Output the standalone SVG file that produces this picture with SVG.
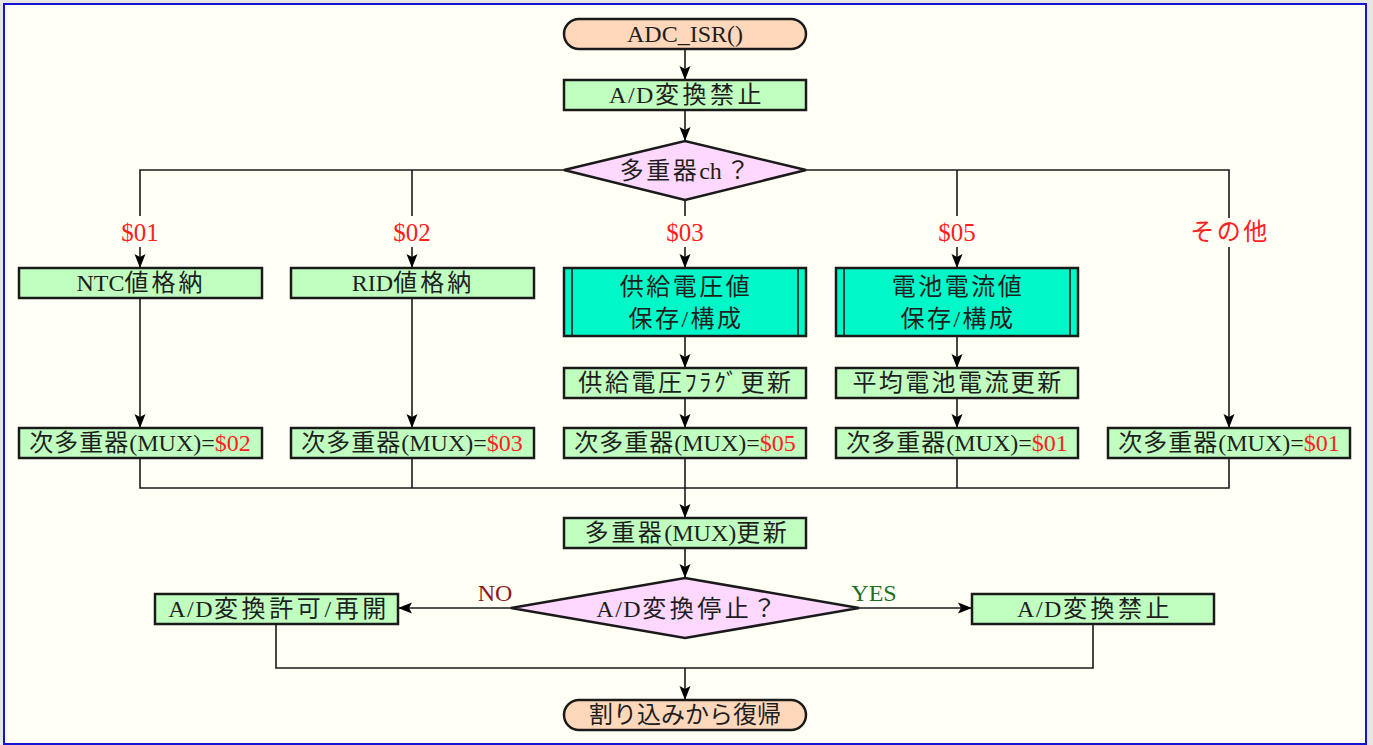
<svg xmlns="http://www.w3.org/2000/svg" width="1373" height="745" viewBox="0 0 1373 745">
  <style>
    text { font-family: "Liberation Serif", "Noto Sans CJK JP", serif; font-size: 24px; fill: #1e1e1e; text-anchor: middle; }
    .lbl { fill: #ff2020; font-size: 25px; }
    .no { fill: #8b1a1a; font-size: 24px; }
    .yes { fill: #1f6f1f; font-size: 24px; }
    .k { letter-spacing: 2.5px; }
    .k3 { letter-spacing: 3.5px; }
    .ad { letter-spacing: 1.5px; }
    .term { fill: #ffd8bc; stroke: #1a1a1a; stroke-width: 2.5; }
    .proc { fill: #c0ffc0; stroke: #1a1a1a; stroke-width: 2.5; }
    .pre { fill: #00f7c8; stroke: #1a1a1a; stroke-width: 2.5; }
    .dec { fill: #ffd8ff; stroke: #1a1a1a; stroke-width: 2.5; }
    .wire { fill: none; stroke: #1a1a1a; stroke-width: 1.6; }
    .arr { fill: none; stroke: #1a1a1a; stroke-width: 1.6; marker-end: url(#head); }
  </style>
  <defs>
    <marker id="head" markerUnits="userSpaceOnUse" markerWidth="14" markerHeight="14" viewBox="0 0 14 14" refX="14" refY="7" orient="auto">
      <path d="M0,1.5 L14,7 L0,12.5 L3,7 Z" fill="#000"/>
    </marker>
  </defs>

  <!-- page frame -->
  <rect x="0" y="0" width="1373" height="745" fill="#e6e6e6"/>
  <rect x="4" y="4" width="1362" height="740" fill="#fffff6" stroke="#1414d2" stroke-width="2"/>

  <!-- connectors -->
  <g id="connectors">
    <path class="arr" d="M685,49 V80"/>
    <path class="arr" d="M685,110 V141"/>
    <!-- branches from the channel decision -->
    <path class="wire" d="M564,170 H140 V216"/>
    <path class="wire" d="M412,170 V216"/>
    <path class="wire" d="M685,200 V216"/>
    <path class="wire" d="M806,170 H1229 V218"/>
    <path class="wire" d="M957,170 V216"/>
    <path class="arr" d="M140,247 V268"/>
    <path class="arr" d="M412,247 V268"/>
    <path class="arr" d="M685,247 V268"/>
    <path class="arr" d="M957,247 V268"/>
    <path class="arr" d="M1229,247 V428"/>
    <path class="arr" d="M140,298 V428"/>
    <path class="arr" d="M412,298 V428"/>
    <path class="arr" d="M685,336 V368"/>
    <path class="arr" d="M957,336 V368"/>
    <path class="arr" d="M685,398 V428"/>
    <path class="arr" d="M957,398 V428"/>
    <!-- merge -->
    <path class="wire" d="M140,458 V488 H1229 V458"/>
    <path class="wire" d="M412,458 V488"/>
    <path class="wire" d="M685,458 V488"/>
    <path class="wire" d="M957,458 V488"/>
    <path class="arr" d="M685,488 V518"/>
    <path class="arr" d="M685,548 V578"/>
    <!-- stop decision -->
    <path class="arr" d="M511,608 H398"/>
    <path class="arr" d="M859,608 H972"/>
    <path class="wire" d="M276,624 V668 H1093 V624"/>
    <path class="arr" d="M685,668 V700"/>
    <!-- branch labels -->
    <text class="lbl" x="140" y="241">$01</text>
    <text class="lbl" x="412" y="241">$02</text>
    <text class="lbl" x="685" y="241">$03</text>
    <text class="lbl" x="957" y="241">$05</text>
    <text class="lbl k" x="1230" y="240" style="font-size:24px">その他</text>
    <text class="no" x="495" y="601">NO</text>
    <text class="yes" x="874" y="601">YES</text>
  </g>

  <g id="start">
    <rect class="term" x="564" y="19" width="242" height="30" rx="15"/>
    <text x="685" y="42">ADC_ISR()</text>
  </g>
  <g id="ad-disable-1">
    <rect class="proc" x="564" y="80" width="242" height="30"/>
    <text x="687" y="103"><tspan class="ad">A/D</tspan><tspan class="k3">変換禁止</tspan></text>
  </g>
  <g id="mux-channel">
    <polygon class="dec" points="564,170 685,141 806,170 685,200"/>
    <text x="686" y="179"><tspan class="k">多重器</tspan>ch<tspan class="k" dx="4">？</tspan></text>
  </g>

  <g id="ntc-store">
    <rect class="proc" x="19" y="268" width="243" height="30"/>
    <text x="141" y="291">NTC<tspan class="k" style="letter-spacing:3px">値格納</tspan></text>
  </g>
  <g id="rid-store">
    <rect class="proc" x="291" y="268" width="243" height="30"/>
    <text x="413" y="291">RID<tspan class="k" style="letter-spacing:3px">値格納</tspan></text>
  </g>
  <g id="supply-voltage">
    <rect class="pre" x="564" y="268" width="242" height="68"/>
    <path class="wire" d="M572,268 V336 M798,268 V336" stroke-width="2"/>
    <text class="k" x="686" y="295">供給電圧値</text>
    <text class="k" x="686" y="327">保存/構成</text>
  </g>
  <g id="battery-current">
    <rect class="pre" x="836" y="268" width="242" height="68"/>
    <path class="wire" d="M844,268 V336 M1070,268 V336" stroke-width="2"/>
    <text class="k" x="958" y="295">電池電流値</text>
    <text class="k" x="958" y="327">保存/構成</text>
  </g>
  <g id="voltage-flag">
    <rect class="proc" x="564" y="368" width="242" height="30"/>
    <text class="k" x="686" y="391" style="letter-spacing:2.6px">供給電圧ﾌﾗｸﾞ更新</text>
  </g>
  <g id="avg-current">
    <rect class="proc" x="836" y="368" width="242" height="30"/>
    <text class="k" x="958" y="391" style="letter-spacing:2.4px">平均電池電流更新</text>
  </g>

  <g id="next-mux-1">
    <rect class="proc" x="19" y="428" width="243" height="30"/>
    <text x="140" y="451"><tspan class="k" style="letter-spacing:1px">次多重器</tspan>(MUX)=<tspan class="lbl" style="font-size:24px">$02</tspan></text>
  </g>
  <g id="next-mux-2">
    <rect class="proc" x="291" y="428" width="243" height="30"/>
    <text x="412" y="451"><tspan class="k" style="letter-spacing:1px">次多重器</tspan>(MUX)=<tspan class="lbl" style="font-size:24px">$03</tspan></text>
  </g>
  <g id="next-mux-3">
    <rect class="proc" x="564" y="428" width="242" height="30"/>
    <text x="685" y="451"><tspan class="k" style="letter-spacing:1px">次多重器</tspan>(MUX)=<tspan class="lbl" style="font-size:24px">$05</tspan></text>
  </g>
  <g id="next-mux-4">
    <rect class="proc" x="836" y="428" width="242" height="30"/>
    <text x="957" y="451"><tspan class="k" style="letter-spacing:1px">次多重器</tspan>(MUX)=<tspan class="lbl" style="font-size:24px">$01</tspan></text>
  </g>
  <g id="next-mux-5">
    <rect class="proc" x="1108" y="428" width="242" height="30"/>
    <text x="1229" y="451"><tspan class="k" style="letter-spacing:1px">次多重器</tspan>(MUX)=<tspan class="lbl" style="font-size:24px">$01</tspan></text>
  </g>

  <g id="mux-update">
    <rect class="proc" x="564" y="518" width="242" height="30"/>
    <text x="687" y="541"><tspan class="k">多重器</tspan>(MUX)<tspan class="k">更新</tspan></text>
  </g>
  <g id="ad-stop">
    <polygon class="dec" points="511,608 685,578 859,608 685,638"/>
    <text x="688" y="617"><tspan class="ad">A/D</tspan><tspan class="k3">変換停止？</tspan></text>
  </g>
  <g id="ad-resume">
    <rect class="proc" x="155" y="594" width="243" height="30"/>
    <text x="279" y="617"><tspan class="ad">A/D</tspan><tspan class="k3" style="letter-spacing:3.6px">変換許可/再開</tspan></text>
  </g>
  <g id="ad-disable-2">
    <rect class="proc" x="972" y="594" width="242" height="30"/>
    <text x="1095" y="617"><tspan class="ad">A/D</tspan><tspan class="k3">変換禁止</tspan></text>
  </g>
  <g id="end">
    <rect class="term" x="564" y="700" width="242" height="30" rx="15"/>
    <text x="685" y="723">割り込みから復帰</text>
  </g>
</svg>
